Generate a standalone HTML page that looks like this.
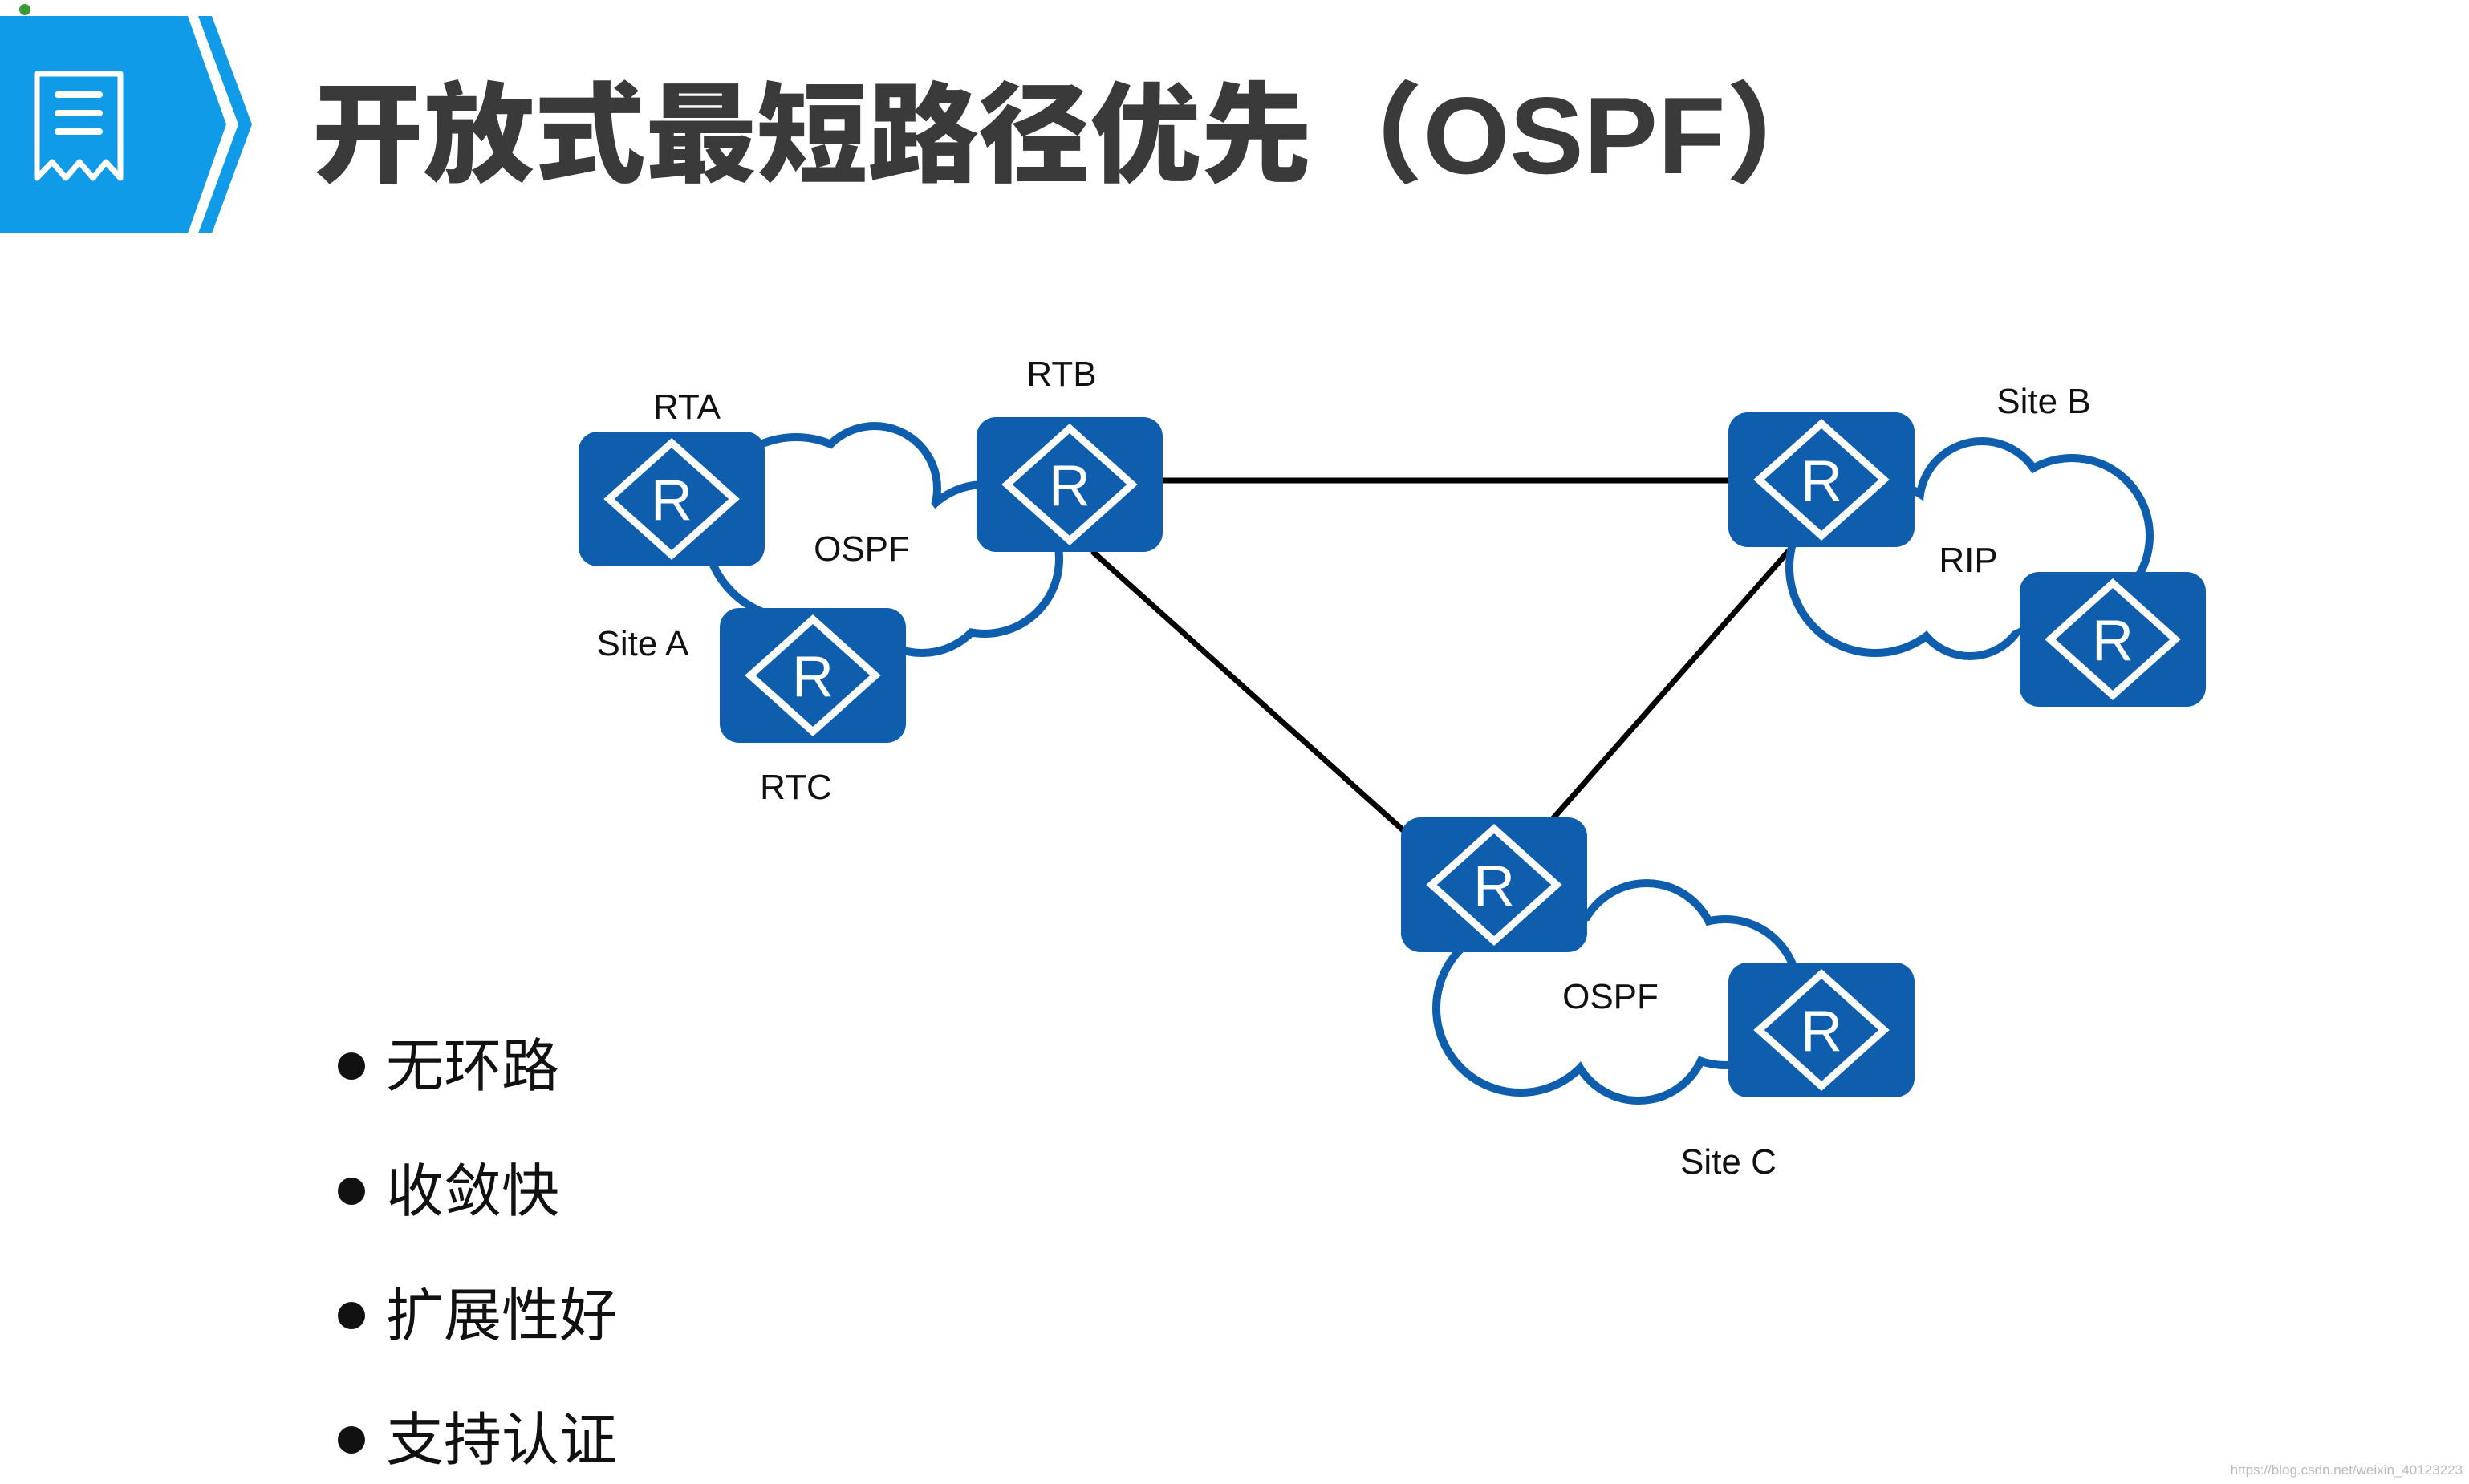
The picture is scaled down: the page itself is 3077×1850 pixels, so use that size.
<!DOCTYPE html>
<html><head><meta charset="utf-8"><style>
html,body{margin:0;padding:0;background:#fff;}
svg{display:block}
</style></head><body>
<svg width="3077" height="1850" viewBox="0 0 3077 1850" xmlns="http://www.w3.org/2000/svg">
<rect width="3077" height="1850" fill="#fff"/>
<circle cx="31" cy="12" r="7" fill="#3a9a3a"/>
<!-- header -->
<polygon points="0,20 234,20 282,155 234,291 0,291" fill="#0f9be8"/>
<polygon points="247,20 264,20 314,155 264,291 247,291 297,155" fill="#0f9be8"/>
<g fill="none" stroke="#fff" stroke-width="7" stroke-linejoin="round">
<path d="M46,92 L150,92 L150,222 L132,202 L116,222 L99,202 L82,222 L65,202 L46,222 Z"/>
</g>
<g stroke="#fff" stroke-width="8" stroke-linecap="round">
<line x1="72" y1="118" x2="124" y2="118"/><line x1="72" y1="141" x2="124" y2="141"/><line x1="72" y1="164" x2="124" y2="164"/>
</g>
<text x="389" y="216" font-family="'Liberation Sans','Noto Sans CJK SC',sans-serif" font-weight="900" font-size="136" fill="#3a3a3a" textLength="1900" lengthAdjust="spacingAndGlyphs">开放式最短路径优先（OSPF）</text>

<!-- connectors -->
<g stroke="#000" stroke-width="7">
<line x1="1440" y1="599" x2="2160" y2="599"/>
<line x1="1361" y1="687" x2="1752" y2="1038"/>
<line x1="2229" y1="687" x2="1934" y2="1022"/>
</g>

<!-- clouds: outline then fill -->
<g fill="#0f5eae">
<circle cx="992" cy="658" r="118"/><circle cx="1227" cy="697" r="98"/><circle cx="1149" cy="727" r="92"/><circle cx="1090" cy="609" r="83"/><circle cx="1090" cy="687" r="100"/>
<circle cx="2470" cy="628" r="83"/><circle cx="2582" cy="668" r="102"/><circle cx="2337" cy="707" r="112"/><circle cx="2455" cy="746" r="77"/><circle cx="2474" cy="707" r="95"/>
<circle cx="2052" cy="1188" r="92"/><circle cx="2150" cy="1237" r="96"/><circle cx="1895" cy="1257" r="110"/><circle cx="2042" cy="1286" r="91"/><circle cx="2003" cy="1237" r="100"/>
</g>
<g fill="#fff">
<circle cx="992" cy="658" r="108"/><circle cx="1227" cy="697" r="88"/><circle cx="1149" cy="727" r="82"/><circle cx="1090" cy="609" r="73"/><circle cx="1090" cy="687" r="92"/>
<circle cx="2470" cy="628" r="73"/><circle cx="2582" cy="668" r="92"/><circle cx="2337" cy="707" r="102"/><circle cx="2455" cy="746" r="67"/><circle cx="2474" cy="707" r="87"/>
<circle cx="2052" cy="1188" r="82"/><circle cx="2150" cy="1237" r="86"/><circle cx="1895" cy="1257" r="100"/><circle cx="2042" cy="1286" r="81"/><circle cx="2003" cy="1237" r="92"/>
</g>

<!-- routers -->
<g font-family="'Liberation Sans',sans-serif" font-size="72" fill="#fff" text-anchor="middle">
<g transform="translate(721,538)"><rect width="232" height="168" rx="24" fill="#0f5eae"/><polygon points="116,14 194,84 116,154 38,84" fill="none" stroke="#fff" stroke-width="9"/><text x="116" y="110">R</text></g>
<g transform="translate(1217,520)"><rect width="232" height="168" rx="24" fill="#0f5eae"/><polygon points="116,14 194,84 116,154 38,84" fill="none" stroke="#fff" stroke-width="9"/><text x="116" y="110">R</text></g>
<g transform="translate(897,758)"><rect width="232" height="168" rx="24" fill="#0f5eae"/><polygon points="116,14 194,84 116,154 38,84" fill="none" stroke="#fff" stroke-width="9"/><text x="116" y="110">R</text></g>
<g transform="translate(2154,514)"><rect width="232" height="168" rx="24" fill="#0f5eae"/><polygon points="116,14 194,84 116,154 38,84" fill="none" stroke="#fff" stroke-width="9"/><text x="116" y="110">R</text></g>
<g transform="translate(2517,713)"><rect width="232" height="168" rx="24" fill="#0f5eae"/><polygon points="116,14 194,84 116,154 38,84" fill="none" stroke="#fff" stroke-width="9"/><text x="116" y="110">R</text></g>
<g transform="translate(1746,1019)"><rect width="232" height="168" rx="24" fill="#0f5eae"/><polygon points="116,14 194,84 116,154 38,84" fill="none" stroke="#fff" stroke-width="9"/><text x="116" y="110">R</text></g>
<g transform="translate(2154,1200)"><rect width="232" height="168" rx="24" fill="#0f5eae"/><polygon points="116,14 194,84 116,154 38,84" fill="none" stroke="#fff" stroke-width="9"/><text x="116" y="110">R</text></g>
</g>

<!-- labels -->
<g font-family="'Liberation Sans',sans-serif" font-size="44" fill="#111" text-anchor="middle">
<text x="856" y="522">RTA</text>
<text x="1323" y="481">RTB</text>
<text x="2547" y="515">Site B</text>
<text x="1074" y="699">OSPF</text>
<text x="801" y="817">Site A</text>
<text x="992" y="996">RTC</text>
<text x="2453" y="713">RIP</text>
<text x="2007" y="1257">OSPF</text>
<text x="2154" y="1463">Site C</text>
</g>

<!-- bullets -->
<g fill="#111">
<circle cx="438" cy="1329" r="17"/><circle cx="438" cy="1485" r="17"/><circle cx="438" cy="1640" r="17"/><circle cx="438" cy="1795" r="17"/>
</g>
<g font-family="'Liberation Sans','Noto Sans CJK SC',sans-serif" font-size="72" fill="#111">
<text x="481" y="1354">无环路</text>
<text x="481" y="1510">收敛快</text>
<text x="481" y="1665">扩展性好</text>
<text x="481" y="1820">支持认证</text>
</g>
<text x="3069" y="1838" text-anchor="end" font-family="'Liberation Sans',sans-serif" font-size="17" fill="#bbb">https://blog.csdn.net/weixin_40123223</text>
</svg>
</body></html>
